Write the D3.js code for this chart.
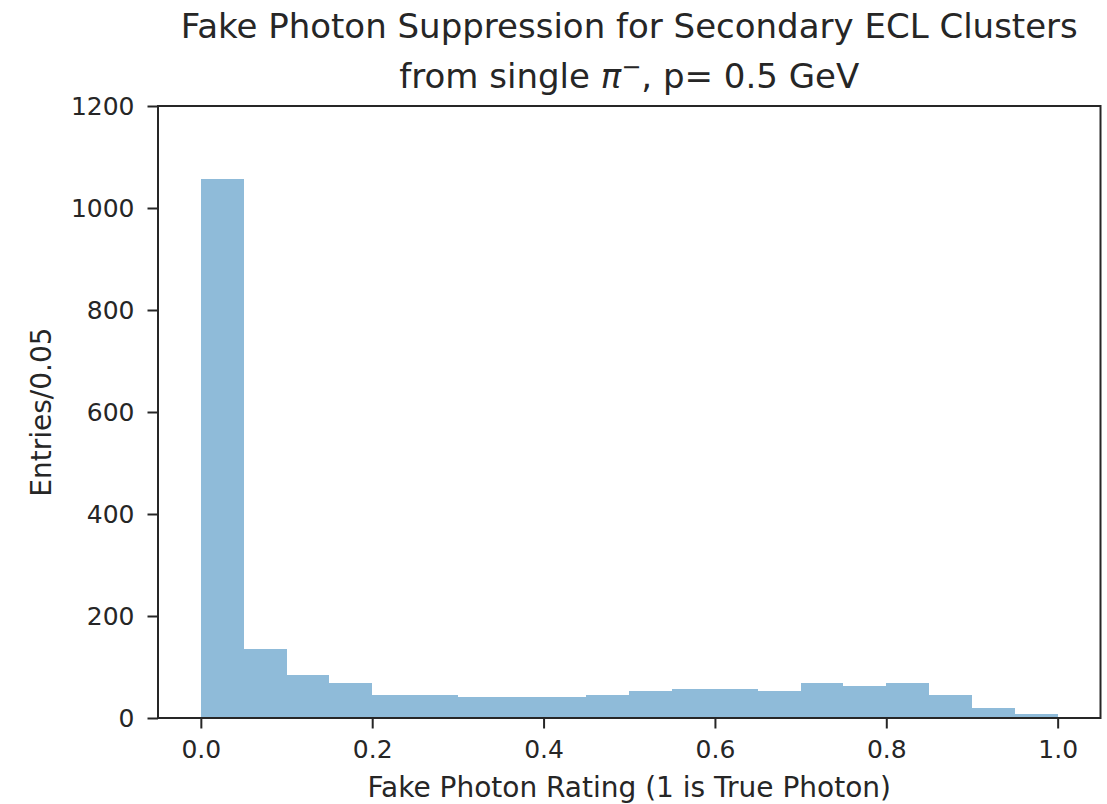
<!DOCTYPE html>
<html>
<head>
<meta charset="utf-8">
<script src="https://cdn.jsdelivr.net/npm/d3@7"></script>
<style>
  html, body { margin: 0; padding: 0; background: #fff; }
  text { font-family: "DejaVu Sans", sans-serif; fill: #262626; }
</style>
</head>
<body>
<svg id="chart" width="1107" height="804"></svg>
<script>
// Histogram of fake photon rating, 20 bins of width 0.05 over [0, 1]
const binEdges = d3.range(0, 21).map(i => +(i * 0.05).toFixed(2));
const counts = [1056, 135, 85, 68, 46, 46, 41, 41, 41, 46,
                52, 57, 57, 52, 68, 63, 68, 46, 19, 7];
const xTicks = [0.0, 0.2, 0.4, 0.6, 0.8, 1.0];
const yTicks = [0, 200, 400, 600, 800, 1000, 1200];
const titleLine1 = "Fake Photon Suppression for Secondary ECL Clusters";
const xLabel = "Fake Photon Rating (1 is True Photon)";
const yLabel = "Entries/0.05";

const bins = counts.map((c, i) => ({ x0: binEdges[i], x1: binEdges[i + 1], count: c }));

const svg = d3.select("#chart");
const plot = { left: 158, right: 1100.5, top: 106, bottom: 718 };

const x = d3.scaleLinear().domain([-0.05, 1.05]).range([plot.left, plot.right]);
const y = d3.scaleLinear().domain([0, 1200]).range([plot.bottom, plot.top]);

// Bars
svg.append("g")
  .selectAll("rect")
  .data(bins)
  .join("rect")
  .attr("x", d => x(d.x0))
  .attr("width", d => x(d.x1) - x(d.x0))
  .attr("y", d => y(d.count))
  .attr("height", d => y(0) - y(d.count))
  .attr("fill", "#1f77b4")
  .attr("fill-opacity", 0.5)
  .attr("shape-rendering", "crispEdges");

// Axes
const fontTick = 25;
const xAxis = d3.axisBottom(x).tickValues(xTicks).tickFormat(d3.format(".1f"))
  .tickSizeInner(10.5).tickSizeOuter(0).tickPadding(11.5);
const yAxis = d3.axisLeft(y).tickValues(yTicks).tickFormat(d3.format("d"))
  .tickSizeInner(10.5).tickSizeOuter(0).tickPadding(13);

const gx = svg.append("g").attr("transform", `translate(0,${plot.bottom})`).call(xAxis);
const gy = svg.append("g").attr("transform", `translate(${plot.left},0)`).call(yAxis);
[gx, gy].forEach(g => {
  g.select(".domain").remove();
  g.selectAll(".tick line").attr("stroke", "#262626").attr("stroke-width", 2);
  g.selectAll(".tick text")
    .style("font-family", "'DejaVu Sans', sans-serif")
    .style("font-size", fontTick + "px")
    .attr("fill", "#262626");
});

// Frame
svg.append("rect")
  .attr("x", plot.left).attr("y", plot.top)
  .attr("width", plot.right - plot.left).attr("height", plot.bottom - plot.top)
  .attr("fill", "none").attr("stroke", "#262626").attr("stroke-width", 2);

// Title
const cx = (plot.left + plot.right) / 2;
svg.append("text").attr("x", cx).attr("y", 38)
  .attr("text-anchor", "middle").style("font-size", "34px")
  .text(titleLine1);

const t2 = svg.append("text").attr("x", cx).attr("y", 88)
  .attr("text-anchor", "middle").style("font-size", "34px");
t2.append("tspan").text("from single ");
t2.append("tspan").style("font-style", "italic").text("π");
t2.append("tspan").attr("dy", -13).style("font-size", "24px").text("−");
t2.append("tspan").attr("dy", 13).text(", p= 0.5 GeV");

// Axis labels
svg.append("text").attr("x", cx).attr("y", 797)
  .attr("text-anchor", "middle").style("font-size", "28px")
  .text(xLabel);

svg.append("text")
  .attr("transform", `translate(51,${(plot.top + plot.bottom) / 2}) rotate(-90)`)
  .attr("text-anchor", "middle").style("font-size", "28px")
  .text(yLabel);
</script>
</body>
</html>
